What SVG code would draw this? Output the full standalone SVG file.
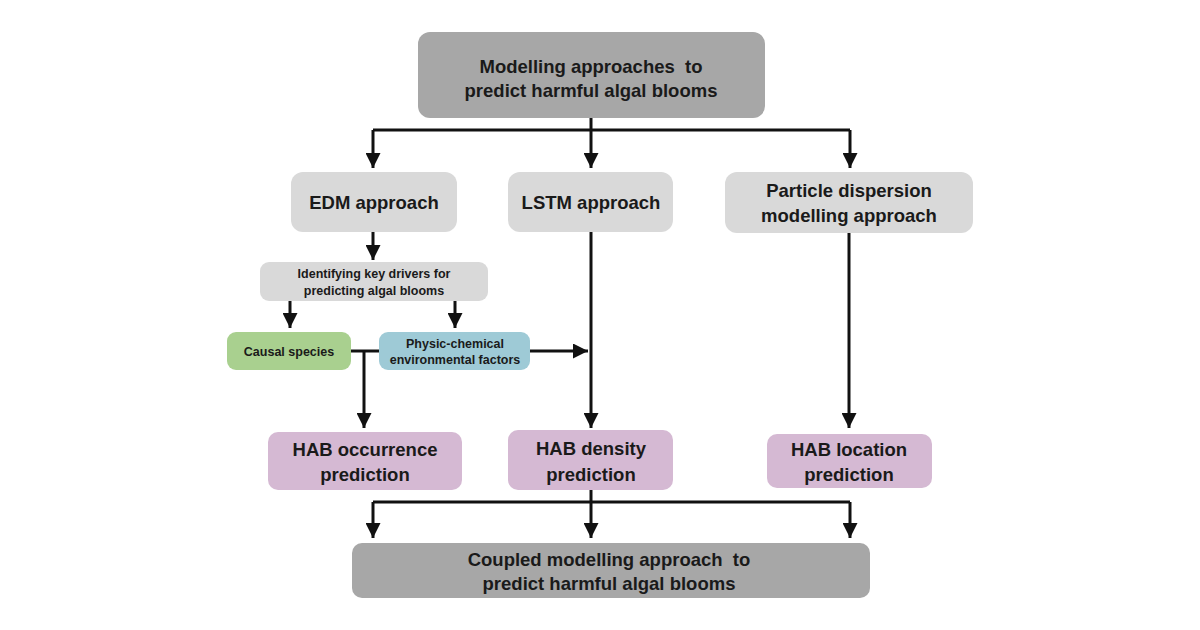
<svg xmlns="http://www.w3.org/2000/svg" width="1200" height="630" viewBox="0 0 1200 630">
<defs>
<marker id="ah" viewBox="0 0 10 10" refX="10" refY="5" markerWidth="5" markerHeight="5" markerUnits="strokeWidth" orient="auto">
<path d="M0,0 L10,5 L0,10 z" fill="#111"/>
</marker>
<style>
.dark{fill:#a7a7a7}
.grey{fill:#d9d9d9}
.green{fill:#a9d08f}
.blue{fill:#9ecad6}
.purple{fill:#d5b9d3}
text{font-family:"Liberation Sans",Arial,sans-serif;font-weight:bold;fill:#1a1a1a;text-anchor:middle;white-space:pre}
.big{font-size:18.5px}
.small{font-size:12.5px}
.c{fill:none;stroke:#111;stroke-width:3}
</style>
</defs>
<rect width="1200" height="630" fill="#ffffff"/>
<g id="connectors">
<path class="c" d="M591,118 V130"/>
<path class="c" d="M373,130 H850"/>
<path class="c" d="M373,130 V168" marker-end="url(#ah)"/>
<path class="c" d="M591,130 V168" marker-end="url(#ah)"/>
<path class="c" d="M850,130 V168" marker-end="url(#ah)"/>
<path class="c" d="M373,232 V260" marker-end="url(#ah)"/>
<path class="c" d="M290,301 V328" marker-end="url(#ah)"/>
<path class="c" d="M455,301 V328" marker-end="url(#ah)"/>
<path class="c" d="M351,351 H379"/>
<path class="c" d="M364,351 V428" marker-end="url(#ah)"/>
<path class="c" d="M530,351 H588" marker-end="url(#ah)"/>
<path class="c" d="M591,232 V428" marker-end="url(#ah)"/>
<path class="c" d="M849,233 V428" marker-end="url(#ah)"/>
<path class="c" d="M591,490 V502"/>
<path class="c" d="M373,502 H850"/>
<path class="c" d="M373,502 V538" marker-end="url(#ah)"/>
<path class="c" d="M591,502 V538" marker-end="url(#ah)"/>
<path class="c" d="M850,502 V538" marker-end="url(#ah)"/>
</g>
<g id="top">
<rect class="dark" x="418" y="32" width="347" height="86" rx="12"/>
<text class="big" x="591" y="73" xml:space="preserve">Modelling approaches  to</text>
<text class="big" x="591" y="97">predict harmful algal blooms</text>
</g>
<g id="edm">
<rect class="grey" x="291" y="172" width="166" height="60" rx="12"/>
<text class="big" x="374" y="209">EDM approach</text>
</g>
<g id="lstm">
<rect class="grey" x="508" y="172" width="165" height="60" rx="12"/>
<text class="big" x="591" y="209">LSTM approach</text>
</g>
<g id="particle">
<rect class="grey" x="725" y="172" width="248" height="61" rx="12"/>
<text class="big" x="849" y="197">Particle dispersion</text>
<text class="big" x="849" y="222">modelling approach</text>
</g>
<g id="drivers">
<rect class="grey" x="260" y="262" width="228" height="39" rx="9"/>
<text class="small" x="374" y="278">Identifying key drivers for</text>
<text class="small" x="374" y="295">predicting algal blooms</text>
</g>
<g id="causal">
<rect class="green" x="227" y="332" width="124" height="38" rx="9"/>
<text class="small" x="289" y="356">Causal species</text>
</g>
<g id="physic">
<rect class="blue" x="379" y="332" width="151" height="38" rx="9"/>
<text class="small" x="455" y="348">Physic-chemical</text>
<text class="small" x="455" y="364">environmental factors</text>
</g>
<g id="occurrence">
<rect class="purple" x="268" y="432" width="194" height="58" rx="10"/>
<text class="big" x="365" y="456">HAB occurrence</text>
<text class="big" x="365" y="481">prediction</text>
</g>
<g id="density">
<rect class="purple" x="508" y="430" width="165" height="60" rx="10"/>
<text class="big" x="591" y="455">HAB density</text>
<text class="big" x="591" y="481">prediction</text>
</g>
<g id="location">
<rect class="purple" x="767" y="434" width="165" height="54" rx="10"/>
<text class="big" x="849" y="456">HAB location</text>
<text class="big" x="849" y="481">prediction</text>
</g>
<g id="coupled">
<rect class="dark" x="352" y="543" width="518" height="55" rx="10"/>
<text class="big" x="609" y="566" xml:space="preserve">Coupled modelling approach  to</text>
<text class="big" x="609" y="590">predict harmful algal blooms</text>
</g>
</svg>
